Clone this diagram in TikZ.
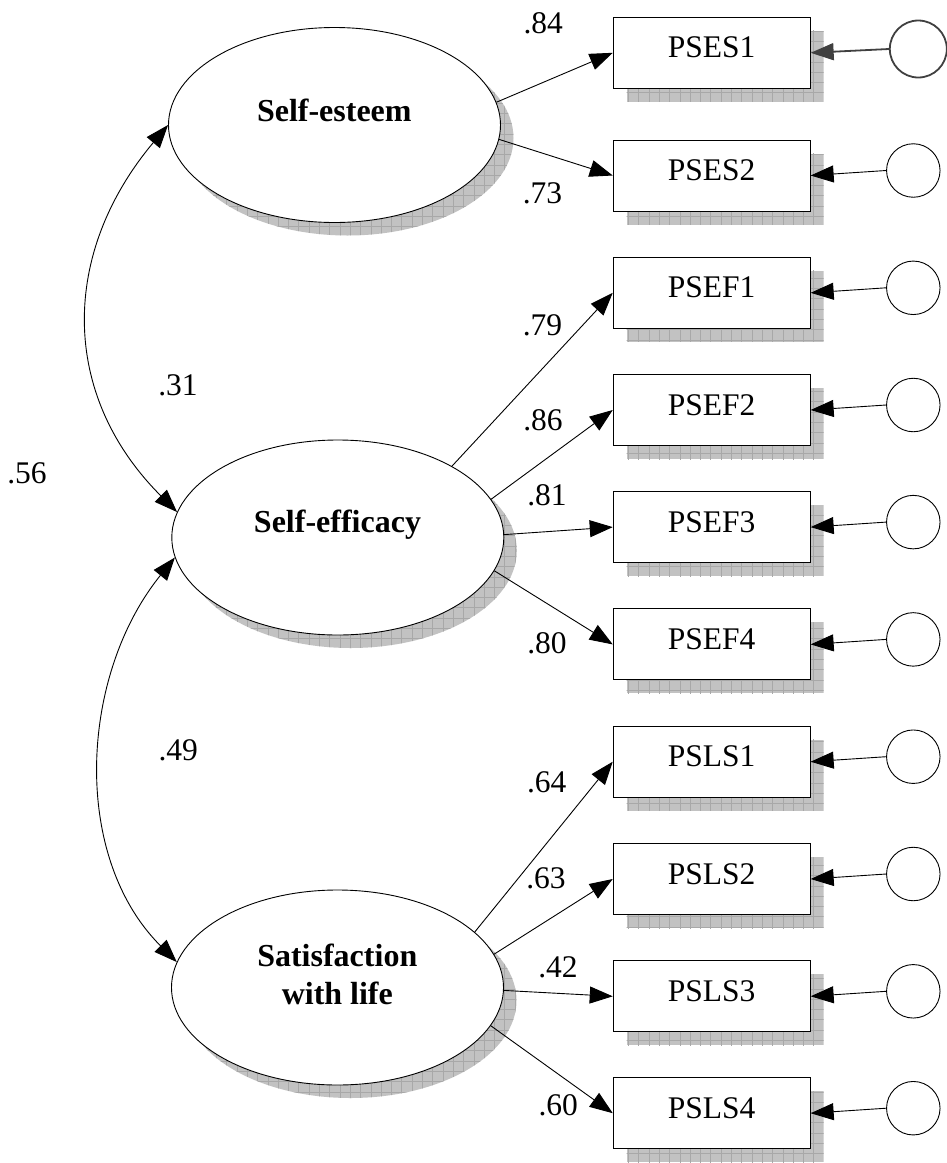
\documentclass[tikz,border=0pt]{standalone}
\usepackage{fontspec}
\setmainfont{Liberation Serif}
\usetikzlibrary{arrows.meta,shapes.geometric}

\begin{document}
\begin{tikzpicture}[x=1pt,y=1pt,
  lat/.style={ellipse, draw, fill=white, line width=0.9pt,
    minimum width=332pt, minimum height=195pt, inner sep=0pt},
  obs/.style={rectangle, draw, fill=white, line width=0.9pt,
    minimum width=197pt, minimum height=71pt, inner sep=0pt,
    text height=22pt, text depth=12pt, font=\fontsize{31.5}{36}\selectfont},
  err/.style={circle, draw, fill=white, line width=0.9pt,
    minimum size=53.5pt, inner sep=0pt},
  errsel/.style={err, draw=black!75, line width=1.8pt, minimum size=57pt},
  coef/.style={inner sep=0pt, font=\fontsize{31.5}{36}\selectfont},
  latname/.style={inner sep=0pt, font=\fontsize{32}{38}\selectfont\bfseries, align=center},
  load/.style={line width=0.9pt, -{Triangle[length=23pt,width=17pt]}},
  covar/.style={line width=0.9pt,
    {Triangle[length=23pt,width=17pt]}-{Triangle[length=23pt,width=17pt]}},
  shadefill/.style={fill=black!24},
  shadegrid/.style={draw=black!34, line width=0.5pt},
]
\useasboundingbox (0,0) rectangle (947,-1163);

% ---- drop shadows of the indicator boxes ----
\foreach \cy in {52.8,175.5,292.8,410.0,527.1,644.4,761.7,879.0,996.3,1113.2} {
  \begin{scope}
    \clip (626.7,-\cy+22) rectangle (823.7,-\cy-49);
    \fill[shadefill] (626.7,-\cy+22) rectangle (823.7,-\cy-49);
    \draw[shadegrid] (620,-\cy-60) grid[step=10.3pt] (830,-\cy+30);
  \end{scope}
}

% ---- drop shadows of the latent variables ----
\foreach \cx/\cy in {334.5/125, 337.8/537.5, 337.5/987.5} {
  \begin{scope}
    \clip (\cx+13,-\cy-13) ellipse [x radius=166, y radius=97.5];
    \fill[shadefill] (\cx-160,-\cy-120) rectangle (\cx+190,-\cy+90);
    \draw[shadegrid] (\cx-160,-\cy-120) grid[step=10.3pt] (\cx+190,-\cy+90);
  \end{scope}
}

% ---- latent variables ----
\node[lat] (se)  at (334.5,-125)   {};
\node[lat] (sf)  at (337.8,-537.5) {};
\node[lat] (sat) at (337.5,-987.5) {};
\node[latname, anchor=base] (seT)  at (334.3,-121.7) {Self-esteem};
\node[latname, anchor=base] (sfT)  at (337.5,-532.7) {Self-efficacy};
\node[latname] (satT) at (337.3,-974) {Satisfaction\\with life};

% ---- indicators ----
\node[obs] (pses1) at (711.7,-52.8)  {PSES1};
\node[obs] (pses2) at (711.7,-175.5) {PSES2};
\node[obs] (psef1) at (711.7,-292.8) {PSEF1};
\node[obs] (psef2) at (711.7,-410.0) {PSEF2};
\node[obs] (psef3) at (711.7,-527.1) {PSEF3};
\node[obs] (psef4) at (711.7,-644.4) {PSEF4};
\node[obs] (psls1) at (711.7,-761.7) {PSLS1};
\node[obs] (psls2) at (711.7,-879.0) {PSLS2};
\node[obs] (psls3) at (711.7,-996.3) {PSLS3};
\node[obs] (psls4) at (711.7,-1113.2) {PSLS4};

% ---- error terms ----
\node[errsel] (e1)  at (918.3,-49)    {};
\node[err] (e2)  at (913.3,-170.5) {};
\node[err] (e3)  at (913.3,-287.8) {};
\node[err] (e4)  at (913.3,-405.0) {};
\node[err] (e5)  at (913.3,-522.1) {};
\node[err] (e6)  at (913.3,-639.4) {};
\node[err] (e7)  at (913.3,-756.7) {};
\node[err] (e8)  at (913.3,-874.0) {};
\node[err] (e9)  at (913.3,-991.3) {};
\node[err] (e10) at (913.3,-1108.2) {};

% ---- loadings ----
\draw[load] (se.8.8)    -- (pses1.west);
\draw[load] (se.-5.8)   -- (pses2.west);
\draw[load] (sf.32.3)   -- (psef1.west);
\draw[load] (sf.14.2)   -- (psef2.west);
\draw[load] (sf.1.4)    -- (psef3.west);
\draw[load] (sf.-12.8)  -- (psef4.west);
\draw[load] (sat.22.9)  -- (psls1.west);
\draw[load] (sat.12.5)  -- (psls2.west);
\draw[load] (sat.-1.2)  -- (psls3.west);
\draw[load] (sat.-14.2) -- (psls4.west);

% ---- error paths ----
\draw[load, draw=black!75, fill=black!75, line width=1.8pt] (e1.west) -- (pses1.east);
\draw[load] (e2.west)  -- (pses2.east);
\draw[load] (e3.west)  -- (psef1.east);
\draw[load] (e4.west)  -- (psef2.east);
\draw[load] (e5.west)  -- (psef3.east);
\draw[load] (e6.west)  -- (psef4.east);
\draw[load] (e7.west)  -- (psls1.east);
\draw[load] (e8.west)  -- (psls2.east);
\draw[load] (e9.west)  -- (psls3.east);
\draw[load] (e10.west) -- (psls4.east);

% ---- covariances ----
\draw[covar] (se.180) to[out=230,in=135,looseness=1.1] (sf.171);
\draw[covar] (sf.187) to[out=231,in=135,looseness=0.95] (sat.171);

% ---- coefficients ----
\node[coef] (l1)  at (543.3,-23)    {.84};
\node[coef] (l2)  at (542.5,-193)   {.73};
\node[coef] (l3)  at (542.5,-325)   {.79};
\node[coef] (l4)  at (543,-420)     {.86};
\node[coef] (l5)  at (547,-495)     {.81};
\node[coef] (l6)  at (547,-643.5)   {.80};
\node[coef] (l7)  at (546.7,-782.5) {.64};
\node[coef] (l8)  at (546,-878)     {.63};
\node[coef] (l9)  at (558,-967)     {.42};
\node[coef] (l10) at (558.3,-1105.6) {.60};
\node[coef] (c1)  at (178,-385)     {.31};
\node[coef] (c2)  at (27,-473)      {.56};
\node[coef] (c3)  at (178.3,-750)   {.49};
\end{tikzpicture}
\end{document}
